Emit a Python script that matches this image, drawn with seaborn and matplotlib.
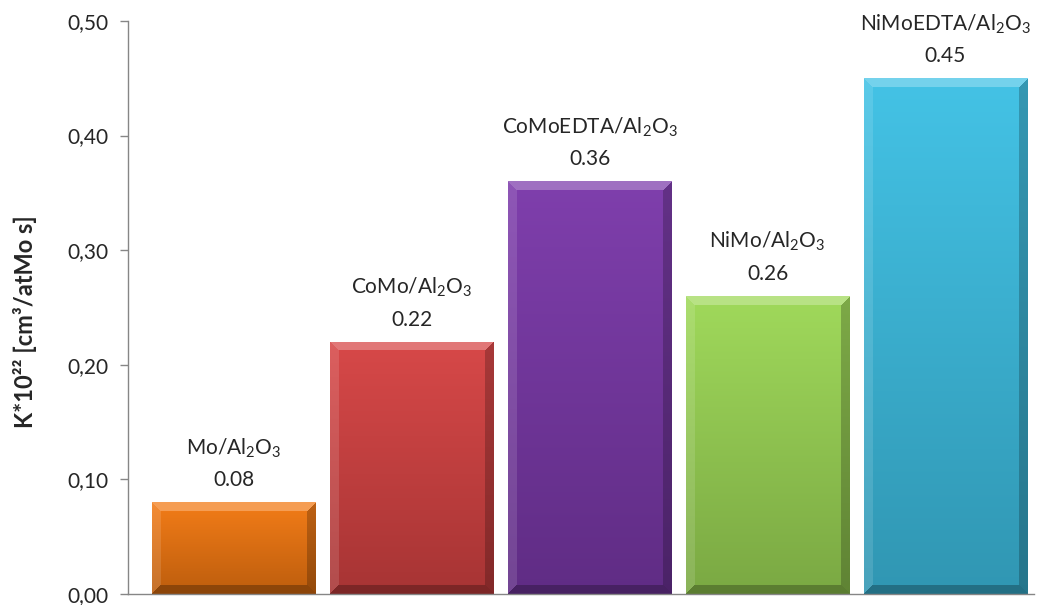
import numpy as np
import pandas as pd
import matplotlib
matplotlib.use("Agg")
import matplotlib.pyplot as plt
import matplotlib.colors as mcolors
from matplotlib.ticker import FuncFormatter
import seaborn as sns

catalysts = ["Mo/Al$_2$O$_3$", "CoMo/Al$_2$O$_3$", "CoMoEDTA/Al$_2$O$_3$",
             "NiMo/Al$_2$O$_3$", "NiMoEDTA/Al$_2$O$_3$"]
k_values = [0.08, 0.22, 0.36, 0.26, 0.45]
bar_colors = ["#F27811", "#D64343", "#7B39AA", "#9DD856", "#3EC1E5"]
y_ticks = [0.0, 0.1, 0.2, 0.3, 0.4, 0.5]
y_label = "K*10²² [cm³/atMo s]"

sns.set_theme(style="white")
plt.rcParams["font.family"] = ["Lato", "DejaVu Sans"]
plt.rcParams["mathtext.fontset"] = "custom"
plt.rcParams["mathtext.rm"] = "Lato"
plt.rcParams["mathtext.default"] = "regular"

df = pd.DataFrame({"catalyst": catalysts, "k": k_values})

fig = plt.figure(figsize=(10.42, 6.05), dpi=100)
ax = fig.add_axes([0.1228, 0.0182, 0.870, 0.9471])

sns.barplot(data=df, x="catalyst", y="k", hue="catalyst", palette=bar_colors,
            width=0.916, legend=False, ax=ax, saturation=1)

XLIM = (-0.593, 4.5)
YLIM = (0, 0.5)
ax.set_xlim(XLIM)
ax.set_ylim(YLIM)
ax.set_yticks(y_ticks)
ax.yaxis.set_major_formatter(FuncFormatter(lambda v, p: f"{v:.2f}".replace(".", ",")))
ax.set_xticks([])
ax.set_xlabel("")
ax.set_ylabel(y_label, fontsize=17, fontweight="bold")
ax.yaxis.set_label_coords(-0.1, 0.475)
ax.tick_params(axis="y", labelsize=15, length=6, width=1, color="#868686",
               direction="out", left=True, pad=8)
for side in ("top", "right"):
    ax.spines[side].set_visible(False)
for side in ("left", "bottom"):
    ax.spines[side].set_color("#868686")
    ax.spines[side].set_linewidth(1)


def shade(rgb, f):
    rgb = np.asarray(rgb)
    if f >= 0:
        return rgb + (1 - rgb) * f
    return rgb * (1 + f)


fig.canvas.draw()
bars = list(ax.patches)
for patch, col, name, val in zip(bars, bar_colors, catalysts, k_values):
    x0, y0 = patch.get_x(), patch.get_y()
    w, h = patch.get_width(), patch.get_height()
    (px0, py0), (px1, py1) = ax.transData.transform([(x0, y0), (x0 + w, y0 + h)])
    wp, hp = max(int(round(px1 - px0)), 2), max(int(round(py1 - py0)), 2)
    base = np.array(mcolors.to_rgb(col))
    # body: gentle vertical gradient, darker toward the baseline
    t = np.linspace(0, 1, hp)[:, None, None]
    top_c = shade(base, 0.03)[None, None, :]
    bot_c = shade(base, -0.22)[None, None, :]
    img = np.repeat(top_c * (1 - t) + bot_c * t, wp, axis=1)
    # bevelled edges
    b = 9
    yy, xx = np.mgrid[0:hp, 0:wp]
    top_m = (yy < b) & (xx >= yy) & (wp - 1 - xx >= yy)
    bot_m = (hp - 1 - yy < b) & (xx >= hp - 1 - yy) & (wp - 1 - xx >= hp - 1 - yy)
    left_m = (xx < b) & ~top_m & ~bot_m
    right_m = (wp - 1 - xx < b) & ~top_m & ~bot_m
    img[top_m] = shade(base, 0.28)
    img[left_m] = shade(img[left_m], 0.12)
    img[right_m] = shade(img[right_m], -0.22)
    img[bot_m] = shade(base, -0.42)
    im = ax.imshow(img, extent=(x0, x0 + w, y0, y0 + h), origin="upper",
                   aspect="auto", zorder=patch.get_zorder() + 0.1,
                   interpolation="nearest")
    im.set_clip_path(patch)
    ax.set_xlim(XLIM)
    ax.set_ylim(YLIM)
    patch.set_edgecolor(shade(base, -0.35))
    patch.set_linewidth(0.6)
    cx = x0 + w / 2
    ax.annotate(f"{val:.2f}", (cx, val), xytext=(0, 16), textcoords="offset pixels",
                ha="center", va="baseline", fontsize=15)
    ax.annotate(name, (cx, val), xytext=(0, 48), textcoords="offset pixels",
                ha="center", va="baseline", fontsize=15)

ax.set_xlim(XLIM)
ax.set_ylim(YLIM)
fig.savefig("out.png", dpi=100)
